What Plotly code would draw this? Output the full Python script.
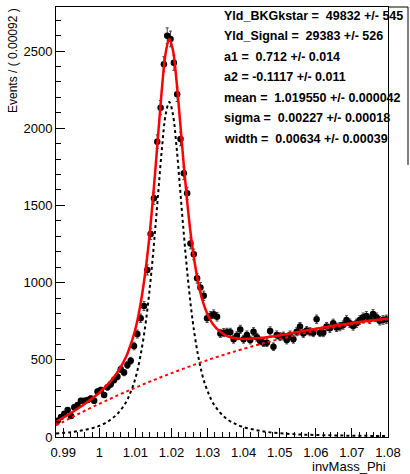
import numpy as np
import plotly.graph_objects as go

# ---------------- data ----------------
bin_lo = 0.988
bin_width = 0.00092
counts = [
    106, 130, 150, 175, 136, 192, 207, 235, 235, 240,
    250, 235, 294, 304, 272, 322, 341, 369, 391, 438,
    417, 466, 494, 589, 667, 769, 848, 1082, 1315, 1546,
    1913, 2133, 2414, 2599, 2578, 2424, 2220, 1930, 1708, 1578,
    1254, 1183, 1028, 969, 915, 769, 784, 795, 779, 671,
    676, 678, 678, 633, 656, 697, 633, 661, 628, 682,
    646, 622, 611, 611, 687, 585, 661, 650, 654, 628,
    661, 633, 682, 715, 671, 689, 682, 676, 762, 676,
    676, 715, 704, 736, 710, 715, 725, 758, 736, 719,
    736, 758, 775, 784, 762, 797, 775, 753, 758, 762,
]

curve_mass = [
    0.988, 0.992, 0.996, 1.000, 1.003, 1.0054, 1.0074, 1.0084, 1.0094, 1.0104,
    1.0114, 1.0124, 1.0134, 1.0144, 1.0154, 1.0164, 1.0174, 1.0184, 1.0194, 1.0204,
    1.0214, 1.0224, 1.0234, 1.0244, 1.0254, 1.0264, 1.0274, 1.0284, 1.0294, 1.0304,
    1.0314, 1.0334, 1.0354, 1.0374, 1.0394, 1.0434, 1.0474, 1.052, 1.056, 1.060,
    1.064, 1.068, 1.072, 1.076, 1.080,
]
sig_curve = [
    22, 31, 46, 72, 110, 160, 225, 275, 335, 415,
    525, 664, 841, 1061, 1320, 1604, 1880, 2090, 2170, 2090,
    1880, 1604, 1320, 1061, 841, 664, 525, 415, 335, 275,
    225, 160, 115, 88, 68, 45, 30, 21, 16, 13,
    11, 9, 8, 7, 6,
]
bkg_curve = [
    75, 123, 170, 215, 247, 273, 293, 303, 313, 323,
    333, 343, 353, 362, 372, 381, 390, 399, 408, 417,
    426, 435, 443, 452, 460, 469, 477, 485, 493, 501,
    509, 524, 539, 553, 567, 594, 619, 646, 668, 688,
    706, 722, 737, 750, 762,
]
total_curve = [
    97, 154, 216, 287, 357, 433, 518, 578, 648, 738,
    858, 1007, 1194, 1423, 1692, 1985, 2270, 2489, 2578, 2507,
    2306, 2039, 1763, 1513, 1301, 1133, 1002, 900, 828, 776,
    734, 684, 654, 641, 635, 639, 649, 667, 684, 701,
    717, 731, 745, 757, 768,
]

x_tick_vals = [0.99, 1.00, 1.01, 1.02, 1.03, 1.04, 1.05, 1.06, 1.07, 1.08]
x_tick_labels = ["0.99", "1", "1.01", "1.02", "1.03", "1.04", "1.05", "1.06", "1.07", "1.08"]
y_tick_vals = [0, 500, 1000, 1500, 2000, 2500]
y_tick_labels = ["0", "500", "1000", "1500", "2000", "2500"]

param_lines = [
    "Yld_BKGkstar =  49832 +/- 545",
    "Yld_Signal =  29383 +/- 526",
    "a1 =  0.712 +/- 0.014",
    "a2 = -0.1117 +/- 0.011",
    "mean =  1.019550 +/- 0.000042",
    "sigma =  0.00227 +/- 0.00018",
    "width =  0.00634 +/- 0.00039",
]
y_title = "Events / ( 0.00092 )"
x_title = "invMass_Phi"

# ---------------- figure ----------------
W, H = 410, 474
L, R, T, B = 56, 22, 7, 37
plot_w = W - L - R
plot_h = H - T - B

def px_x(px):
    return (px - L) / plot_w

def px_y(py):
    return (H - B - py) / plot_h

counts_arr = np.array(counts, dtype=float)
centers = bin_lo + bin_width * (np.arange(len(counts)) + 0.5)

FONT = "Liberation Sans, Arial, Helvetica, sans-serif"

fig = go.Figure()
fig.add_trace(go.Scatter(
    x=centers, y=counts_arr, mode="markers",
    marker=dict(color="black", size=6.5),
    error_y=dict(type="data", array=np.sqrt(counts_arr), color="#444", thickness=1, width=1.5),
    error_x=dict(type="constant", value=bin_width / 2, color="#444", thickness=1, width=0),
))
fig.add_trace(go.Scatter(
    x=curve_mass, y=sig_curve, mode="lines", line_shape="spline",
    line=dict(color="black", width=2, dash="dot"),
))
fig.add_trace(go.Scatter(
    x=curve_mass, y=bkg_curve, mode="lines", line_shape="spline",
    line=dict(color="#ff0000", width=2, dash="dot"),
))
fig.add_trace(go.Scatter(
    x=curve_mass, y=total_curve, mode="lines", line_shape="spline",
    line=dict(color="#ff0000", width=2.5),
))

axis_common = dict(
    showline=True, linecolor="black", linewidth=1, mirror=True,
    ticks="inside", tickcolor="black", tickwidth=1,
    showgrid=False, zeroline=False,
    tickfont=dict(family=FONT, size=13, color="black"),
)
fig.update_xaxes(
    range=[0.988, 1.080], tickvals=x_tick_vals, ticktext=x_tick_labels, ticklen=9,
    ticklabelstandoff=3,
    minor=dict(ticks="inside", ticklen=5, tickcolor="black", dtick=0.002, tick0=0.988, showgrid=False),
    **axis_common,
)
fig.update_yaxes(
    range=[0, 2785], tickvals=y_tick_vals, ticktext=y_tick_labels, ticklen=9,
    minor=dict(ticks="inside", ticklen=5, tickcolor="black", dtick=100, tick0=0, showgrid=False),
    **axis_common,
)

annotations = []
line_y = [16, 36, 57, 77.5, 98, 118.5, 139]
for txt, yy in zip(param_lines, line_y):
    annotations.append(dict(
        xref="paper", yref="paper", x=px_x(222), y=px_y(yy),
        xanchor="left", yanchor="middle", showarrow=False, text="<b>" + txt + "</b>",
        font=dict(family=FONT, size=12.5, color="black"),
    ))
annotations.append(dict(
    xref="paper", yref="paper", x=px_x(13), y=px_y(61), textangle=-90,
    xanchor="center", yanchor="middle", showarrow=False, text=y_title,
    font=dict(family=FONT, size=12, color="black"),
))
annotations.append(dict(
    xref="paper", yref="paper", x=1.0, y=px_y(466),
    xanchor="right", yanchor="middle", showarrow=False, text=x_title,
    font=dict(family=FONT, size=13, color="black"),
))

shapes = [
    dict(type="line", xref="paper", yref="paper", x0=1.0, x1=px_x(408), y0=1.0, y1=1.0,
         line=dict(color="black", width=1)),
    dict(type="line", xref="paper", yref="paper", x0=px_x(408), x1=px_x(408), y0=1.0, y1=px_y(165),
         line=dict(color="black", width=1)),
]

fig.update_layout(
    width=W, height=H, margin=dict(l=L, r=R, t=T, b=B, autoexpand=False),
    plot_bgcolor="white", paper_bgcolor="white", showlegend=False,
    font=dict(family=FONT, size=13, color="black"),
    annotations=annotations, shapes=shapes,
)

fig.write_html("out.html")
